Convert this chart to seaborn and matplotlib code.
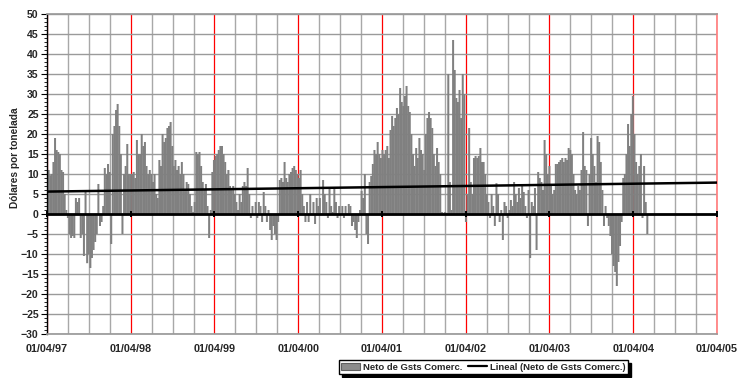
import pandas as pd
import numpy as np
import seaborn as sns
import matplotlib.pyplot as plt
import matplotlib.dates as mdates
from matplotlib.ticker import MultipleLocator
from matplotlib.patches import Patch
from matplotlib.lines import Line2D

# weekly net values (USD/t), one list per season starting 1 April
neto_97 = [10.5, 11, 9.7, 10, 13, 19, 16, 15.5, 15, 11, 10.5, 5, 1, -1, -5, -6, -5.5, -6,
           4, 3, 4, -6, -5, -10.5, 5.5, -12.3, -10, -13.5, -11, -9, -7, -5, 7.5, -3, -2, 2,
           11.5, 10, 12.5, 10.5, -7.5, 20, 22, 26, 27.5, 22, 15, -5, 10, 12, 17.5, 10]
neto_98 = [10, 10, 10.5, 9, 18.5, 15, 15, 20, 17, 18, 12, 10, 11, 10, 8, 10, 5, 4,
           13.5, 12, 20, 18, 19, 21.5, 22, 23, 17, 12, 13.5, 11, 12, 10, 13, 10, 6, 8,
           7.5, 5, 2, 0.5, 3, 15.5, 15, 15.5, 12, 8, 6, 7.5, 2, -6, 1, 10.5]
neto_99 = [13.5, 14.5, 15, 16, 17, 17, 15, 13, 10, 11, 7, 6, 7, 5, 3, 1, 5, 3,
           7, 8, 7, 11.5, 5, -1, 2, 0, 3, -1, 3, 2, -2, 5.5, 2, -2, 1, -4,
           -6.5, -3, -5, -6.5, -2, 8.5, 9, 8, 13, 9, 8, 10, 10.5, 11.5, 12, 11]
neto_00 = [10, 9, 11, 5, 2, -2, 3, -2, 5, 0, 3, -2.5, 4, 2, 4, 0, 8.5, 5,
           3, -1, 6.5, 2, 0.5, 6.5, 3, -1, 2, 0, 2, -1, 2, 0, 2.5, 2, -3, -2,
           -4, -6, -2, 1, 5.8, 4, 10, -5, -7.5, 8, 9.5, 12.5, 16, 15, 18, 15]
neto_01 = [14, 16, 15, 16, 17, 14, 21, 24.5, 22, 24, 26.5, 25, 31.5, 28, 27, 29.5, 32, 27,
           25.5, 20, 15, 12, 16.5, 14, 19, 16, 15, 11, 20, 24, 25.5, 24, 21.5, 15, 12, 16.5,
           13, 10, 0.5, 0.3, 0.5, 0.3, 35, 8, 1, 43.5, 36, 29, 28, 31, 24, 35]
neto_02 = [30, -2, 5, 21.5, 8, 5, 14, 14.5, 14, 14.5, 16.5, 13, 13, 10, 5, 3, -1, 5,
           2, -3, 7.7, 5, -2, 1, -6.5, 3, 2, -1, 1, 3.5, 2, 8, 5, 3, 6.5, 4,
           7, 5.5, 2, -1, 6, -11, 3, 2, 6.5, -9, 10.5, 9, 8, 6, 18.5, 15]
neto_03 = [10, 12, 7, 5, 6, 12.5, 12.5, 13, 13.5, 14, 13, 14, 13.5, 16.5, 16, 15, 10, 6,
           5, 7, 6, 11, 20.5, 12, 11, -3, 10, 19, 15, 12, 8, 19.5, 18, 13, 6, -3,
           2, -1, -3, -5.5, -10, -13, -14.5, -18, -12, -8, -2, 9, 10, 15, 22.5, 17]
neto_04 = [25, 29.5, 20, 13, 10, 12, 15, -1, 12, 3, -5]

start_date = '1997-04-01'

# linear trend line as drawn in the original (start / end)
trend_dates = ['1997-04-01', '2005-04-01']
trend_values = [5.6, 7.85]

tick_dates = ['1997-04-01', '1998-04-01', '1999-04-01', '2000-04-01', '2001-04-01',
              '2002-04-01', '2003-04-01', '2004-04-01', '2005-04-01']
tick_labels = ['01/04/97', '01/04/98', '01/04/99', '01/04/00', '01/04/01',
               '01/04/02', '01/04/03', '01/04/04', '01/04/05']

y_ticks = list(range(-30, 55, 5))

values = neto_97 + neto_98 + neto_99 + neto_00 + neto_01 + neto_02 + neto_03 + neto_04
df = pd.DataFrame({
    'fecha': pd.date_range(start_date, periods=len(values), freq='7D'),
    'neto': values,
})
df['x'] = mdates.date2num(df['fecha'])

tick_x = mdates.date2num(pd.to_datetime(tick_dates))
trend_x = mdates.date2num(pd.to_datetime(trend_dates))

sns.set_theme(style='white')
plt.rcParams['font.family'] = ['Liberation Sans', 'DejaVu Sans']

fig = plt.figure(figsize=(7.37, 3.78), dpi=100)
ax = fig.add_axes([0.0638, 0.1164, 0.9091, 0.8466])

# slight overlap so neighbouring weeks merge into one solid mass
sns.barplot(data=df, x='x', y='neto', native_scale=True, width=1.25, color='#808080',
            saturation=1, errorbar=None, linewidth=0, snap=False, ax=ax)

ax.axhline(0, color='black', lw=2, zorder=3)
ax.plot(tick_x, np.zeros(len(tick_x)), ls='none', marker='|', ms=5, mew=1.4,
        color='black', zorder=4, clip_on=False)

sns.lineplot(x=trend_x, y=trend_values, color='black', lw=1.8, ax=ax, zorder=5)

ax.set_xlim(tick_x[0], tick_x[-1])
ax.set_ylim(-30, 50)

ax.set_xticks(tick_x)
ax.set_xticklabels(tick_labels)
ax.xaxis.set_minor_locator(mdates.MonthLocator(bymonth=[1, 7, 10], bymonthday=1))
ax.set_yticks(y_ticks)
ax.yaxis.set_minor_locator(MultipleLocator(1))

ax.set_axisbelow(True)
ax.grid(axis='x', which='major', color='#ff0000', lw=0.9)
ax.grid(axis='x', which='minor', color='#a8a8a8', lw=1)
ax.grid(axis='y', which='major', color='#9a9a9a', lw=1)

ax.tick_params(axis='x', which='both', length=0, pad=7, labelsize=7.8)
ax.tick_params(axis='y', which='major', length=4, width=0.8, color='black',
               direction='out', left=True, pad=2, labelsize=7.6)
ax.tick_params(axis='y', which='minor', length=2, width=0.6, color='black',
               direction='out', left=True)
for lab in ax.get_xticklabels() + ax.get_yticklabels():
    lab.set_fontweight('bold')

ax.spines['left'].set_color('black')
ax.spines['left'].set_linewidth(1)
ax.spines['bottom'].set_color('#9a9a9a')
ax.spines['top'].set_color('#9a9a9a')
ax.spines['right'].set_color('#ff8080')

ax.set_xlabel('')
ax.set_ylabel('Dólares por tonelada', fontsize=7.3, fontweight='bold')
ax.yaxis.set_label_coords(-0.040, 0.55)

handles = [Patch(facecolor='#8c8c8c', edgecolor='#606060', lw=0.8),
           Line2D([], [], color='black', lw=1.6)]
fig.legend(handles, ['Neto de Gsts Comerc.', 'Lineal (Neto de Gsts Comerc.)'],
           loc='center', bbox_to_anchor=(0.656, 0.029), ncol=2, frameon=True,
           fancybox=False, edgecolor='black', shadow={'color': 'black', 'alpha': 1},
           prop={'weight': 'bold', 'size': 6.8}, handlelength=2.0, handleheight=0.8,
           handletextpad=0.3, columnspacing=0.6, borderpad=0.25, borderaxespad=0)

fig.savefig('out.png', dpi=100)
plt.close()
